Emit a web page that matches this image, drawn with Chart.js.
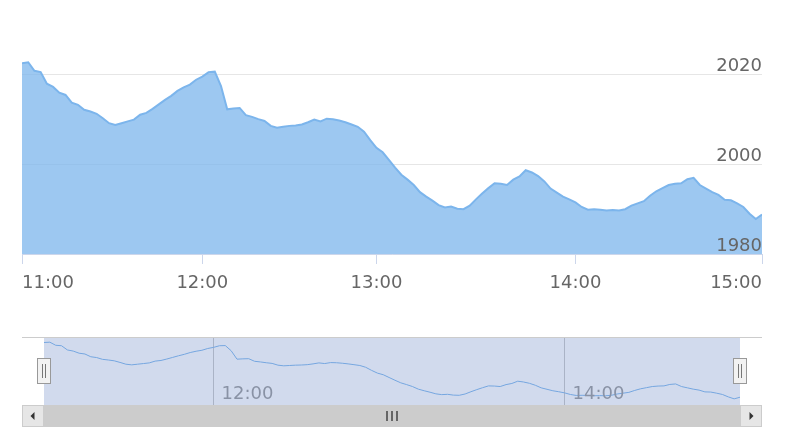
<!DOCTYPE html>
<html>
<head>
<meta charset="utf-8">
<script src="https://cdn.jsdelivr.net/npm/chart.js@4.4.1/dist/chart.umd.min.js"></script>
<style>
    body { margin: 0; background: #fff; }
    #wrap { position: relative; width: 800px; height: 447px; }
    #mainChart { position: absolute; left: 0; top: 0; }
    #navChart { position: absolute; left: 0; top: 330px; }
</style>
</head>
<body>
<div id="wrap">
    <canvas id="mainChart" width="800" height="300"></canvas>
    <canvas id="navChart" width="800" height="117"></canvas>
</div>
<script>
// price per sample, 11:00 -> 15:00
const prices = [
    2022.6, 2022.8, 2020.9, 2020.6, 2018.0, 2017.3, 2016.0, 2015.5, 2013.8, 2013.3,
    2012.2, 2011.8, 2011.3, 2010.3, 2009.2, 2008.8, 2009.2, 2009.6, 2010.0, 2011.1,
    2011.5, 2012.4, 2013.4, 2014.4, 2015.3, 2016.4, 2017.2, 2017.8, 2018.9, 2019.6,
    2020.6, 2020.7, 2017.5, 2012.3, 2012.5, 2012.6, 2011.0, 2010.6, 2010.1, 2009.7,
    2008.6, 2008.2, 2008.4, 2008.6, 2008.7, 2008.9, 2009.4, 2010.0, 2009.6, 2010.2,
    2010.1, 2009.8, 2009.4, 2008.9, 2008.4, 2007.3, 2005.4, 2003.7, 2002.7, 2001.0,
    1999.3, 1997.7, 1996.6, 1995.4, 1993.8, 1992.8, 1991.9, 1990.9, 1990.4, 1990.6,
    1990.1, 1990.0, 1990.8, 1992.2, 1993.5, 1994.7, 1995.8, 1995.7, 1995.4, 1996.6,
    1997.3, 1998.7, 1998.2, 1997.4, 1996.2, 1994.6, 1993.7, 1992.8, 1992.2, 1991.5,
    1990.5, 1989.9, 1990.0, 1989.9, 1989.7, 1989.8, 1989.7, 1990.0, 1990.8, 1991.3,
    1991.8, 1993.0, 1994.0, 1994.7, 1995.4, 1995.7, 1995.8, 1996.7, 1997.0, 1995.4,
    1994.6, 1993.8, 1993.2, 1992.1, 1992.0, 1991.3, 1990.5, 1989.0, 1987.8, 1988.8
];

// x axis ticks (sample index where each hour starts)
const timeLabels = ['11:00', '12:00', '13:00', '14:00', '15:00'];
const timeIndex = [0, 29, 57, 89, 119];

// navigator ticks
const navLabels = ['12:00', '14:00'];
const navIndex = [29, 89];

const yTicks = [1980, 2000, 2020];

Chart.defaults.font.family = '"DejaVu Sans", Verdana, sans-serif';

const points = prices.map((v, i) => ({ x: i, y: v }));

new Chart(document.getElementById('mainChart'), {
    type: 'line',
    data: {
        datasets: [{
            data: points,
            borderColor: '#7cb5ec',
            backgroundColor: 'rgba(124, 181, 236, 0.75)',
            borderWidth: 2,
            fill: 'start',
            pointRadius: 0,
            tension: 0
        }]
    },
    options: {
        responsive: false,
        animation: false,
        devicePixelRatio: 1,
        layout: { padding: { left: 22, right: 38, top: 30, bottom: 0 } },
        plugins: { legend: { display: false }, tooltip: { enabled: false } },
        scales: {
            x: {
                type: 'linear',
                min: 0,
                max: prices.length - 1,
                afterBuildTicks: s => { s.ticks = timeIndex.map(v => ({ value: v })); },
                afterFit: s => { s.height = 46; },
                grid: { drawOnChartArea: false, tickLength: 10, color: '#ccd6eb' },
                border: { color: '#ccd6eb' },
                ticks: {
                    align: 'inner',
                    maxRotation: 0,
                    autoSkip: false,
                    padding: 9,
                    color: '#666',
                    font: { size: 18 },
                    callback: v => timeLabels[timeIndex.indexOf(v)]
                }
            },
            y: {
                position: 'right',
                min: 1980,
                max: 2030,
                afterBuildTicks: s => { s.ticks = yTicks.map(v => ({ value: v })); },
                afterFit: s => { s.width = 0; },
                grid: { color: '#e6e6e6', drawTicks: false },
                border: { display: false },
                ticks: {
                    z: 1, // labels over the area
                    mirror: true,
                    padding: 0,
                    labelOffset: -8,
                    color: '#666',
                    font: { size: 18 },
                    callback: v => String(v)
                }
            }
        }
    }
});

// navigator mask, handles and scrollbar
const navigatorDecor = {
    id: 'navigatorDecor',
    afterDatasetsDraw(chart) {
        const { ctx, chartArea: a, scales: { x } } = chart;
        ctx.save();
        ctx.font = '18px "DejaVu Sans"';
        ctx.fillStyle = '#999';
        ctx.textBaseline = 'alphabetic';
        navIndex.forEach((v, i) => {
            ctx.fillText(navLabels[i], x.getPixelForValue(v) + 8, a.bottom - 6);
        });
        const x0 = x.getPixelForValue(0);
        const x1 = x.getPixelForValue(prices.length - 1);
        ctx.fillStyle = 'rgba(102, 133, 194, 0.3)';
        ctx.fillRect(x0, a.top, x1 - x0, a.bottom - a.top);
        ctx.restore();
    },
    afterDraw(chart) {
        const { ctx, chartArea: a, scales: { x } } = chart;
        const btn = 22;
        const x0 = x.getPixelForValue(0);
        const x1 = x.getPixelForValue(prices.length - 1);
        const left = a.left - btn;
        const right = a.right + btn;
        ctx.save();

        // outline
        ctx.strokeStyle = '#cccccc';
        ctx.lineWidth = 1;
        ctx.beginPath();
        ctx.moveTo(left, a.top + 0.5);
        ctx.lineTo(right, a.top + 0.5);
        ctx.stroke();

        // handles
        const cy = Math.round((a.top + a.bottom) / 2);
        [x0, x1].forEach(hx => {
            hx = Math.round(hx);
            ctx.fillStyle = '#f2f2f2';
            ctx.fillRect(hx - 7, cy - 13, 14, 26);
            ctx.strokeStyle = '#999';
            ctx.strokeRect(hx - 6.5, cy - 12.5, 13, 25);
            ctx.strokeStyle = '#777';
            ctx.beginPath();
            ctx.moveTo(hx - 1.5, cy - 7); ctx.lineTo(hx - 1.5, cy + 7);
            ctx.moveTo(hx + 1.5, cy - 7); ctx.lineTo(hx + 1.5, cy + 7);
            ctx.stroke();
        });

        // scrollbar
        const sy = a.bottom;
        const sh = 22;
        ctx.fillStyle = '#f2f2f2';
        ctx.fillRect(left, sy, right - left, sh);
        ctx.fillStyle = '#cccccc';
        ctx.fillRect(a.left, sy, a.right - a.left, sh);

        [left, a.right].forEach((bx, k) => {
            ctx.fillStyle = '#e6e6e6';
            ctx.fillRect(bx, sy, btn, sh);
            ctx.strokeStyle = '#cccccc';
            ctx.strokeRect(bx + 0.5, sy + 0.5, btn - 1, sh - 1);
            const cx = bx + btn / 2;
            const my = sy + sh / 2;
            ctx.fillStyle = '#333';
            ctx.beginPath();
            if (k === 0) {
                ctx.moveTo(cx + 1.5, my - 4); ctx.lineTo(cx + 1.5, my + 4); ctx.lineTo(cx - 2.5, my);
            } else {
                ctx.moveTo(cx - 1.5, my - 4); ctx.lineTo(cx - 1.5, my + 4); ctx.lineTo(cx + 2.5, my);
            }
            ctx.closePath();
            ctx.fill();
        });

        // grip
        const gx = Math.round((a.left + a.right) / 2);
        const gy = sy + sh / 2;
        ctx.strokeStyle = '#444';
        ctx.lineWidth = 1.5;
        ctx.beginPath();
        [-5, 0, 5].forEach(d => {
            ctx.moveTo(gx + d, gy - 5);
            ctx.lineTo(gx + d, gy + 5);
        });
        ctx.stroke();

        ctx.restore();
    }
};

new Chart(document.getElementById('navChart'), {
    type: 'line',
    data: {
        datasets: [{
            data: points,
            borderColor: '#7cb5ec',
            borderWidth: 1,
            fill: false,
            pointRadius: 0,
            tension: 0
        }]
    },
    options: {
        responsive: false,
        animation: false,
        devicePixelRatio: 1,
        layout: { padding: { left: 44, right: 60, top: 7, bottom: 42 } },
        plugins: { legend: { display: false }, tooltip: { enabled: false } },
        scales: {
            x: {
                type: 'linear',
                min: 0,
                max: prices.length - 1,
                afterBuildTicks: s => { s.ticks = navIndex.map(v => ({ value: v })); },
                afterFit: s => { s.height = 0; },
                grid: { color: '#c8c8c8', drawTicks: false },
                border: { display: false },
                ticks: { display: false }
            },
            y: { display: false, min: 1984, max: 2026 }
        }
    },
    plugins: [navigatorDecor]
});
</script>
</body>
</html>
